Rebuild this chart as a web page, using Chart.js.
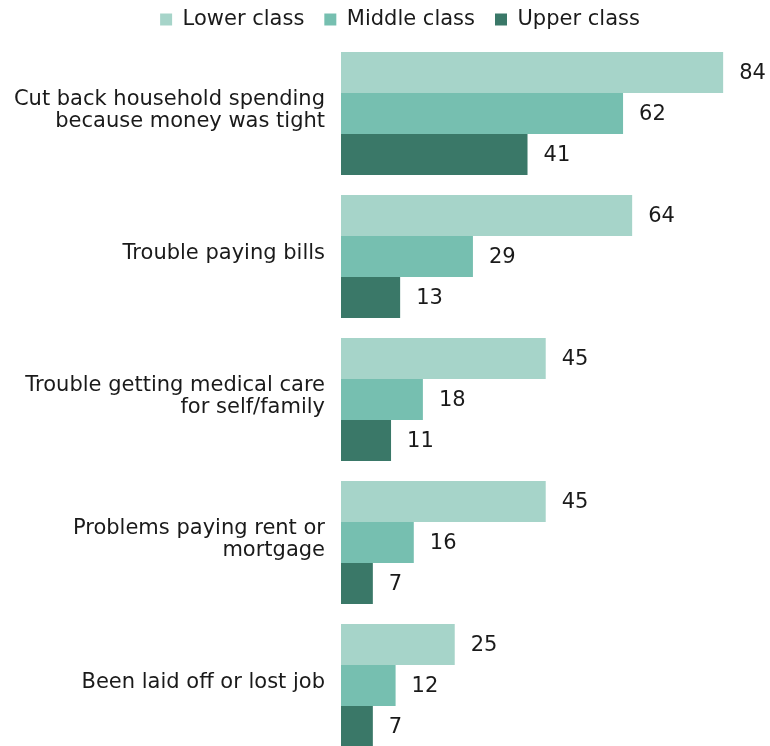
<!DOCTYPE html>
<html>
<head>
<meta charset="utf-8">
<script src="https://cdn.jsdelivr.net/npm/chart.js@4"></script>
<style>
  html, body { margin: 0; padding: 0; background: #fff; overflow: hidden; }
</style>
</head>
<body>
<canvas id="hardshipChart" width="770" height="757"></canvas>
<script>
const categories = [
    ['Cut back household spending', 'because money was tight'],
    'Trouble paying bills',
    ['Trouble getting medical care', 'for self/family'],
    ['Problems paying rent or', 'mortgage'],
    'Been laid off or lost job'
];
const seriesNames = ['Lower class', 'Middle class', 'Upper class'];
const lowerClass = [84, 64, 45, 45, 25];
const middleClass = [62, 29, 18, 16, 12];
const upperClass = [41, 13, 11, 7, 7];
const seriesColors = ['#a6d4c9', '#76bfb0', '#3a7868'];

const fontFamily = '"DejaVu Sans", Verdana, sans-serif';
const fontSize = 21;
const textColor = '#1a1a1a';

// Value labels drawn just past the end of each bar
const barValueLabels = {
    id: 'barValueLabels',
    afterDatasetsDraw(chart) {
        const ctx = chart.ctx;
        ctx.save();
        ctx.font = fontSize + 'px ' + fontFamily;
        ctx.fillStyle = textColor;
        ctx.textAlign = 'left';
        ctx.textBaseline = 'middle';
        chart.data.datasets.forEach((ds, i) => {
            chart.getDatasetMeta(i).data.forEach((bar, j) => {
                ctx.fillText(ds.data[j], bar.x + 16, bar.y + 1);
            });
        });
        ctx.restore();
    }
};

// Keep the legend block short so the bars start right under it,
// and nudge it a little right of centre
const compactLegend = {
    id: 'compactLegend',
    beforeInit(chart) {
        const fit = chart.legend.fit;
        chart.legend.fit = function() {
            fit.call(this);
            this.height = 53;
        };
    },
    afterLayout(chart) {
        chart.legend.left += 15;
        chart.legend.right += 15;
    }
};

new Chart(document.getElementById('hardshipChart'), {
    type: 'bar',
    data: {
        labels: categories,
        datasets: [lowerClass, middleClass, upperClass].map((values, i) => ({
            label: seriesNames[i],
            data: values,
            backgroundColor: seriesColors[i],
            borderWidth: 0,
            categoryPercentage: 0.86,
            barPercentage: 1
        }))
    },
    options: {
        indexAxis: 'y',
        responsive: false,
        animation: false,
        layout: { padding: { top: -11, right: 0, left: 0, bottom: 0 } },
        plugins: {
            legend: {
                position: 'top',
                labels: {
                    boxWidth: 12,
                    boxHeight: 12,
                    padding: 20,
                    color: textColor,
                    font: { family: fontFamily, size: fontSize }
                }
            },
            tooltip: { enabled: false }
        },
        scales: {
            x: {
                display: false,
                min: 0,
                max: 94.3
            },
            y: {
                grid: { display: false },
                border: { display: false },
                ticks: {
                    padding: 8,
                    labelOffset: -3,
                    color: textColor,
                    font: { family: fontFamily, size: fontSize, lineHeight: 1.05 }
                },
                afterFit(scale) {
                    scale.width = 341;
                    // multi-line labels would otherwise reserve space below the bars
                    scale.paddingTop = 0;
                    scale.paddingBottom = 0;
                }
            }
        }
    },
    plugins: [barValueLabels, compactLegend]
});
</script>
</body>
</html>
